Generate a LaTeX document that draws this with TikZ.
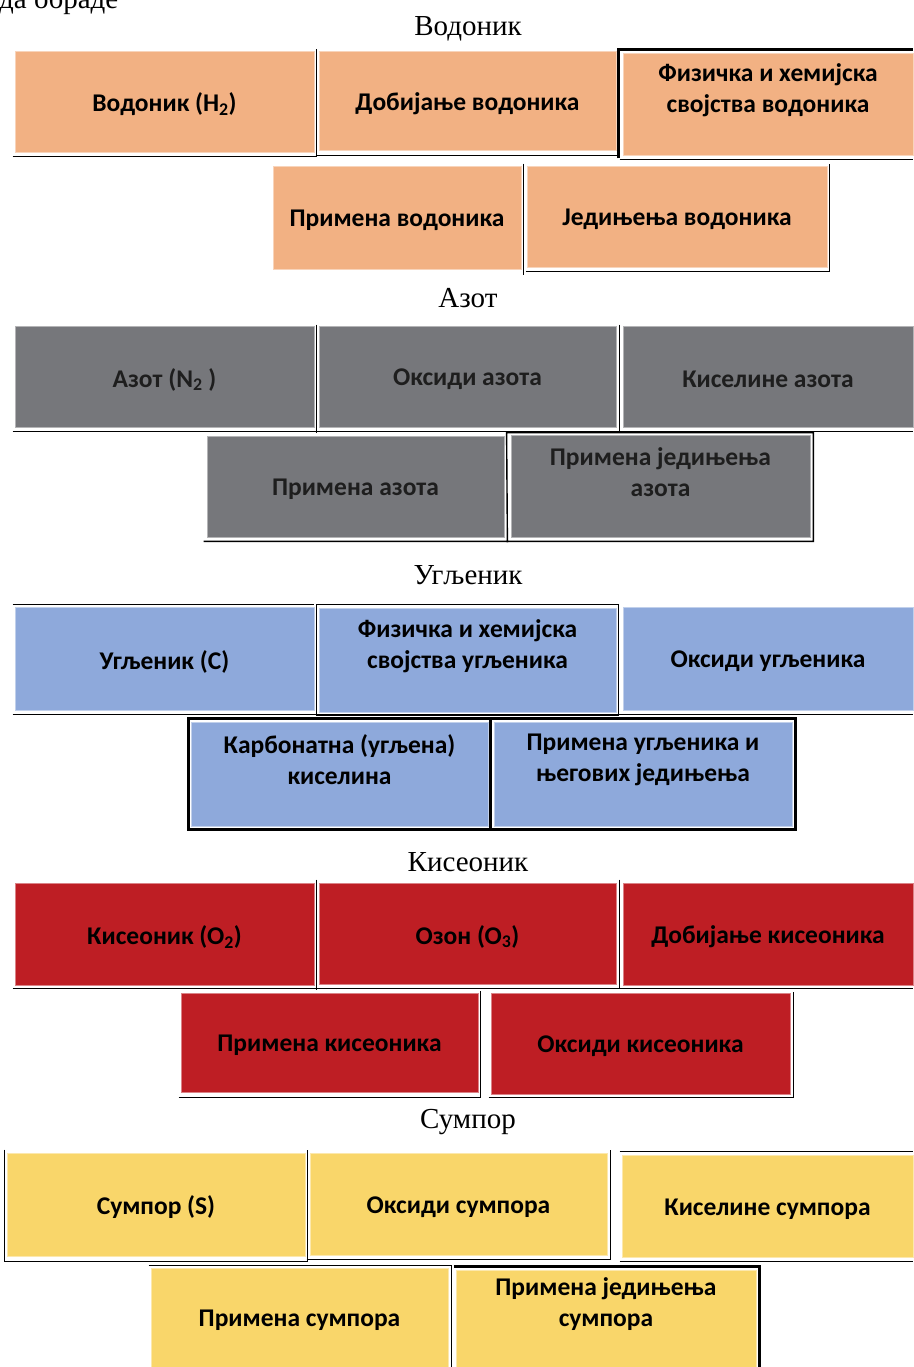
\documentclass[tikz,border=0pt]{standalone}
\usepackage{fontspec}
\setmainfont{Liberation Serif}
\newfontfamily\cellfont{Carlito}
\usetikzlibrary{calc,positioning,fit}

\definecolor{vodonik}{HTML}{F2B183}
\definecolor{azot}{HTML}{76777B}
\definecolor{ugljenik}{HTML}{8EA9DB}
\definecolor{kiseonik}{HTML}{BE1E24}
\definecolor{sumpor}{HTML}{F9D66A}
\definecolor{sivtekst}{HTML}{1E1E1E}

\tikzset{
  cell/.style={fill=#1, draw=#1!55!white, line width=0.8pt, inner sep=0pt},
  txt/.style={inner sep=0pt, yshift=-3pt, align=center, font=\cellfont\bfseries\fontsize{25.5}{31}\selectfont},
  dva/.style={yshift=17pt},
  naslov/.style={inner sep=0pt, font=\fontsize{29}{34}\selectfont},
  bline/.style={line width=1.4pt},
  tline/.style={line width=2.6pt}
}

\begin{document}
\begin{tikzpicture}[x=1pt,y=-1pt]
\useasboundingbox (0,0) rectangle (913,1367);
\node[naslov, anchor=base west] (uvod) at (-1,9) {да обраде};

\node[naslov] (t1) at (468,29) {Водоник};
\node[cell=vodonik, fit={(15,51) (314,152)}, label={[txt, name=h1t]center:{Водоник (H\textsubscript{2})}}] (h1) {};
\node[cell=vodonik, fit={(319,51) (616,150)}, label={[txt, name=h2t]center:{Добијање водоника}}] (h2) {};
\node[cell=vodonik, fit={(623,53) (913,155)}, label={[txt, dva, name=h3t]center:{Физичка и хемијска\\својства водоника}}] (h3) {};
\node[cell=vodonik, fit={(273,166) (521,269)}, label={[txt, name=h4t]center:{Примена водоника}}] (h4) {};
\node[cell=vodonik, fit={(527,166) (827,267)}, label={[txt, name=h5t]center:{Једињења водоника}}] (h5) {};
\draw[bline] ($(h1.south west)+(-2,4)$) -- ($(h1.south east)+(2,4)$) -- ($(h1.north east)+(2,-2)$);
\draw[bline] ($(h2.south west)+(-3,5)$) -- ($(h2.south east)+(4,5)$);
\draw[tline] ($(h3.south west)+(-4,3)$) -- ($(h3.north west)+(-4,-3)$) -- ($(h3.north east)+(0,-3)$);
\draw[bline] ($(h3.south west)+(-3,4)$) -- ($(h3.south east)+(0,4)$);
\draw[bline] ($(h4.north east)+(2,-2)$) -- ($(h4.south east)+(2,6)$);
\draw[bline] ($(h5.south west)+(-1,4)$) -- ($(h5.south east)+(2,4)$) -- ($(h5.north east)+(2,-2)$);

\node[naslov] (t2) at (468,298) {Азот};
\node[cell=azot, fit={(15,326) (314,427)}, label={[txt, text=sivtekst, name=n1t]center:{Азот (N\textsubscript{2} )}}] (n1) {};
\node[cell=azot, fit={(319,326) (616,427)}, label={[txt, text=sivtekst, name=n2t]center:{Оксиди азота}}] (n2) {};
\node[cell=azot, fit={(623,326) (913,427)}, label={[txt, text=sivtekst, name=n3t]center:{Киселине азота}}] (n3) {};
\node[cell=azot, fit={(207,436) (504,537)}, label={[txt, text=sivtekst, name=n4t]center:{Примена азота}}] (n4) {};
\node[cell=azot, fit={(511,435) (810,537)}, label={[txt, dva, text=sivtekst, name=n5t]center:{Примена једињења\\азота}}] (n5) {};
\draw[bline] ($(n1.south west)+(-2,4)$) -- ($(n3.south east)+(0,4)$);
\draw[bline] ($(n1.north east)+(2,-1)$) -- ($(n1.south east)+(2,6)$);
\draw[bline] ($(n2.north east)+(3,-1)$) -- ($(n2.south east)+(3,6)$);
\draw[bline] ($(n4.south west)+(-3,4)$) -- ($(n5.south east)+(3,4)$) -- ($(n5.north east)+(3,-2)$)
  -- ($(n5.north west)+(-4,-2)$) -- ($(n4.south east)+(3,5)$);

\node[naslov] (t3) at (468,575) {Угљеник};
\node[cell=ugljenik, fit={(15,607) (314,710)}, label={[txt, name=c1t]center:{Угљеник (C)}}] (c1) {};
\node[cell=ugljenik, fit={(319,608) (616,712)}, label={[txt, dva, name=c2t]center:{Физичка и хемијска\\својства угљеника}}] (c2) {};
\node[cell=ugljenik, fit={(623,607) (913,710)}, label={[txt, name=c3t]center:{Оксиди угљеника}}] (c3) {};
\node[cell=ugljenik, fit={(191,722) (488,826)}, label={[txt, dva, name=c4t]center:{Карбонатна (угљена)\\киселина}}] (c4) {};
\node[cell=ugljenik, fit={(494,722) (792,826)}, label={[txt, dva, name=c5t]center:{Примена угљеника и\\његових једињења}}] (c5) {};
\draw[bline] ($(c1.north west)+(-2,-2)$) -- ($(c1.north east)+(0,-2)$);
\draw[bline] ($(c2.north west)+(-2,-3)$) rectangle ($(c2.south east)+(2,3)$);
\draw[bline] ($(c1.south west)+(-2,4)$) -- ($(c3.south east)+(0,4)$);
\draw[tline] ($(c4.north west)+(-2,-3)$) rectangle ($(c5.south east)+(3,3)$);
\draw[tline] ($(c5.north west)+(-3,-3)$) -- ($(c5.south west)+(-3,3)$);

\node[naslov] (t4) at (468,862) {Кисеоник};
\node[cell=kiseonik, fit={(15,883) (314,985)}, label={[txt, name=o1t]center:{Кисеоник (O\textsubscript{2})}}] (o1) {};
\node[cell=kiseonik, fit={(319,883) (616,984)}, label={[txt, name=o2t]center:{Озон (O\textsubscript{3})}}] (o2) {};
\node[cell=kiseonik, fit={(623,883) (913,985)}, label={[txt, name=o3t]center:{Добијање кисеоника}}] (o3) {};
\node[cell=kiseonik, fit={(181,993) (478,1092)}, label={[txt, name=o4t]center:{Примена кисеоника}}] (o4) {};
\node[cell=kiseonik, fit={(491,993) (790,1094)}, label={[txt, name=o5t]center:{Оксиди кисеоника}}] (o5) {};
\draw[bline] ($(o1.south west)+(-2,3)$) -- ($(o3.south east)+(0,3)$);
\draw[bline] ($(o1.north east)+(2,-3)$) -- ($(o1.south east)+(2,5)$);
\draw[bline] ($(o2.north east)+(3,-3)$) -- ($(o2.south east)+(3,4)$);
\draw[bline] ($(o4.south west)+(-2,5)$) -- ($(o4.south east)+(2,5)$) -- ($(o4.north east)+(2,-2)$);
\draw[bline] ($(o5.south west)+(-2,3)$) -- ($(o5.south east)+(3,3)$) -- ($(o5.north east)+(3,-1)$);

\node[naslov] (t5) at (468,1122) {Сумпор};
\node[cell=sumpor, fit={(7,1153) (305,1256)}, label={[txt, name=s1t]center:{Сумпор (S)}}] (s1) {};
\node[cell=sumpor, fit={(310,1153) (607,1255)}, label={[txt, name=s2t]center:{Оксиди сумпора}}] (s2) {};
\node[cell=sumpor, fit={(622,1155) (913,1257)}, label={[txt, name=s3t]center:{Киселине сумпора}}] (s3) {};
\node[cell=sumpor, fit={(151,1268) (448,1367)}, label={[txt, name=s4t]center:{Примена сумпора}}] (s4) {};
\node[cell=sumpor, fit={(456,1270) (756,1367)}, label={[txt, dva, name=s5t]center:{Примена једињења\\сумпора}}] (s5) {};
\draw[bline] ($(s1.north west)+(-2,-3)$) -- ($(s1.south west)+(-2,5)$) -- ($(s1.south east)+(2,5)$) -- ($(s1.north east)+(2,-3)$);
\draw[bline] ($(s2.south west)+(-3,4)$) -- ($(s2.south east)+(3,4)$) -- ($(s2.north east)+(3,-3)$);
\draw[bline] ($(s3.north west)+(-2,-3)$) -- ($(s3.north east)+(0,-3)$);
\draw[bline] ($(s3.south west)+(-2,4)$) -- ($(s3.south east)+(0,4)$);
\draw[bline] ($(s4.north west)+(-2,-2)$) -- ($(s4.north east)+(3,-2)$) -- ($(s4.south east)+(3,0)$);
\draw[tline] ($(s5.north west)+(-2,-3)$) -- ($(s5.north east)+(3,-3)$) -- ($(s5.south east)+(3,0)$);
\end{tikzpicture}
\end{document}
